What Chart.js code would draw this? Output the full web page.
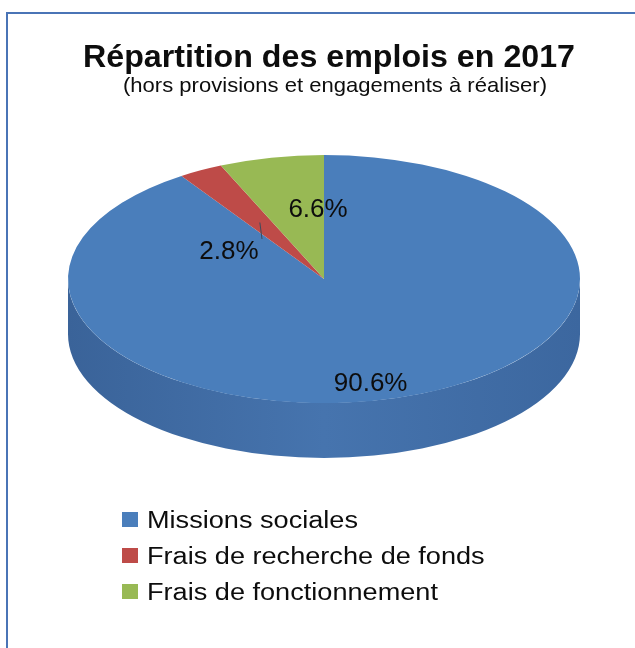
<!DOCTYPE html>
<html>
<head>
<meta charset="utf-8">
<script src="https://cdn.jsdelivr.net/npm/chart.js@4.4.1/dist/chart.umd.min.js"></script>
<style>
  html, body { margin: 0; padding: 0; background: #ffffff; }
  canvas { display: block; }
</style>
</head>
<body>
<canvas id="c" width="635" height="648"></canvas>
<script>
// ---- data ----
const categories = ['Missions sociales', 'Frais de recherche de fonds', 'Frais de fonctionnement'];
const values = [90.6, 2.8, 6.6];
const titleText = 'Répartition des emplois en 2017';
const subtitleText = '(hors provisions et engagements à réaliser)';

// ---- styles ----
const topColors = ['#4A7EBB', '#BE4B48', '#98B954'];
const sideColors = [['#3A6399', '#4674AE', '#3C679F'], ['#9A3B39', '#A84442', '#9A3B39'], ['#7A9642', '#86A44A', '#7A9642']];
const PIE = { cx: 324, cy: 279, r: 256, ry: 124, depth: 55 };
const K = PIE.ry / PIE.r;
// label placement: fraction of radius along mid angle + pixel nudge
const labelPlace = [ { f: 0.8, dx: -13, dy: 10 }, { f: 0.0, dx: 0, dy: 0, fixed: true }, { f: 0.55, dx: 23, dy: -2 } ];

function proj(a, f) {
  return { x: PIE.cx + Math.cos(a) * PIE.r * f, y: PIE.cy + Math.sin(a) * PIE.ry * f };
}

function fitText(ctx, text, x, y, font, targetW, align) {
  ctx.font = font;
  const w = ctx.measureText(text).width;
  const s = targetW ? targetW / w : 1;
  ctx.save();
  ctx.translate(x, y);
  ctx.scale(s, 1);
  ctx.textAlign = align;
  ctx.textBaseline = 'alphabetic';
  ctx.fillText(text, 0, 0);
  ctx.restore();
  return s;
}

const pie3d = {
  id: 'pie3d',
  beforeDatasetsDraw(chart) {
    const ctx = chart.ctx;
    const meta = chart.getDatasetMeta(0);
    // side walls (front half only)
    meta.data.forEach((el, i) => {
      const { startAngle, endAngle } = el.getProps(['startAngle', 'endAngle'], true);
      const ranges = [[0, Math.PI], [2 * Math.PI, 3 * Math.PI], [-2 * Math.PI, -Math.PI]];
      ranges.forEach(([lo, hi]) => {
        const a1 = Math.max(lo, startAngle), a2 = Math.min(hi, endAngle);
        if (a2 <= a1) return;
        const g = ctx.createLinearGradient(PIE.cx - PIE.r, 0, PIE.cx + PIE.r, 0);
        g.addColorStop(0, sideColors[i][0]);
        g.addColorStop(0.5, sideColors[i][1]);
        g.addColorStop(1, sideColors[i][2]);
        ctx.beginPath();
        ctx.ellipse(PIE.cx, PIE.cy + PIE.depth, PIE.r, PIE.ry, 0, a1, a2, false);
        ctx.ellipse(PIE.cx, PIE.cy, PIE.r, PIE.ry, 0, a2, a1, true);
        ctx.closePath();
        ctx.fillStyle = g;
        ctx.fill();
      });
    });
    // flatten the top face
    const el0 = meta.data[0];
    ctx.save();
    ctx.translate(PIE.cx, PIE.cy);
    ctx.scale(1, K);
    ctx.translate(-el0.x, -el0.y);
  },
  afterDatasetsDraw(chart) {
    chart.ctx.restore();
  },
  afterDraw(chart) {
    const ctx = chart.ctx;
    const meta = chart.getDatasetMeta(0);
    // frame
    ctx.save();
    ctx.strokeStyle = '#4A74B6';
    ctx.lineWidth = 2;
    ctx.beginPath();
    ctx.moveTo(7, 660);
    ctx.lineTo(7, 13);
    ctx.lineTo(640, 13);
    ctx.stroke();
    ctx.restore();

    ctx.fillStyle = '#0d0d0d';
    fitText(ctx, titleText, 329, 67, 'bold 31px "Liberation Sans", Arial, sans-serif', 492, 'center');
    fitText(ctx, subtitleText, 335, 92, '21px "Liberation Sans", Arial, sans-serif', 424, 'center');

    // data labels
    ctx.font = '26px "Liberation Sans", Arial, sans-serif';
    meta.data.forEach((el, i) => {
      const { startAngle, endAngle } = el.getProps(['startAngle', 'endAngle'], true);
      const mid = (startAngle + endAngle) / 2;
      const txt = values[i].toFixed(1) + '%';
      ctx.fillStyle = '#0d0d0d';
      ctx.textAlign = 'center';
      ctx.textBaseline = 'middle';
      if (i === 1) {
        // label outside slice with leader line
        const tip = proj(mid, 0.52);
        ctx.strokeStyle = '#3d4a5c';
        ctx.lineWidth = 1;
        ctx.beginPath();
        ctx.moveTo(262, 239);
        ctx.lineTo(tip.x, tip.y);
        ctx.stroke();
        ctx.fillText(txt, 229, 252);
      } else {
        const p = proj(mid, labelPlace[i].f);
        ctx.fillText(txt, p.x + labelPlace[i].dx, p.y + labelPlace[i].dy);
      }
    });

    // legend
    const lfont = '23px "Liberation Sans", Arial, sans-serif';
    ctx.font = lfont;
    const s = 211 / ctx.measureText(categories[0]).width;
    categories.forEach((name, i) => {
      const base = 528 + i * 36;
      ctx.fillStyle = topColors[i];
      ctx.fillRect(122, base - 16, 16, 15);
      ctx.fillStyle = '#0d0d0d';
      ctx.save();
      ctx.translate(147, base);
      ctx.scale(s, 1);
      ctx.font = lfont;
      ctx.textAlign = 'left';
      ctx.textBaseline = 'alphabetic';
      ctx.fillText(name, 0, 0);
      ctx.restore();
    });
  }
};

new Chart(document.getElementById('c'), {
  type: 'pie',
  data: {
    labels: categories,
    datasets: [{
      data: values,
      backgroundColor: topColors,
      borderWidth: 0,
      borderColor: 'rgba(0,0,0,0)',
      radius: PIE.r,
      clip: false
    }]
  },
  options: {
    responsive: false,
    animation: false,
    events: [],
    layout: { padding: 0 },
    plugins: {
      legend: { display: false },
      title: { display: false },
      tooltip: { enabled: false }
    }
  },
  plugins: [pie3d]
});
</script>
</body>
</html>
